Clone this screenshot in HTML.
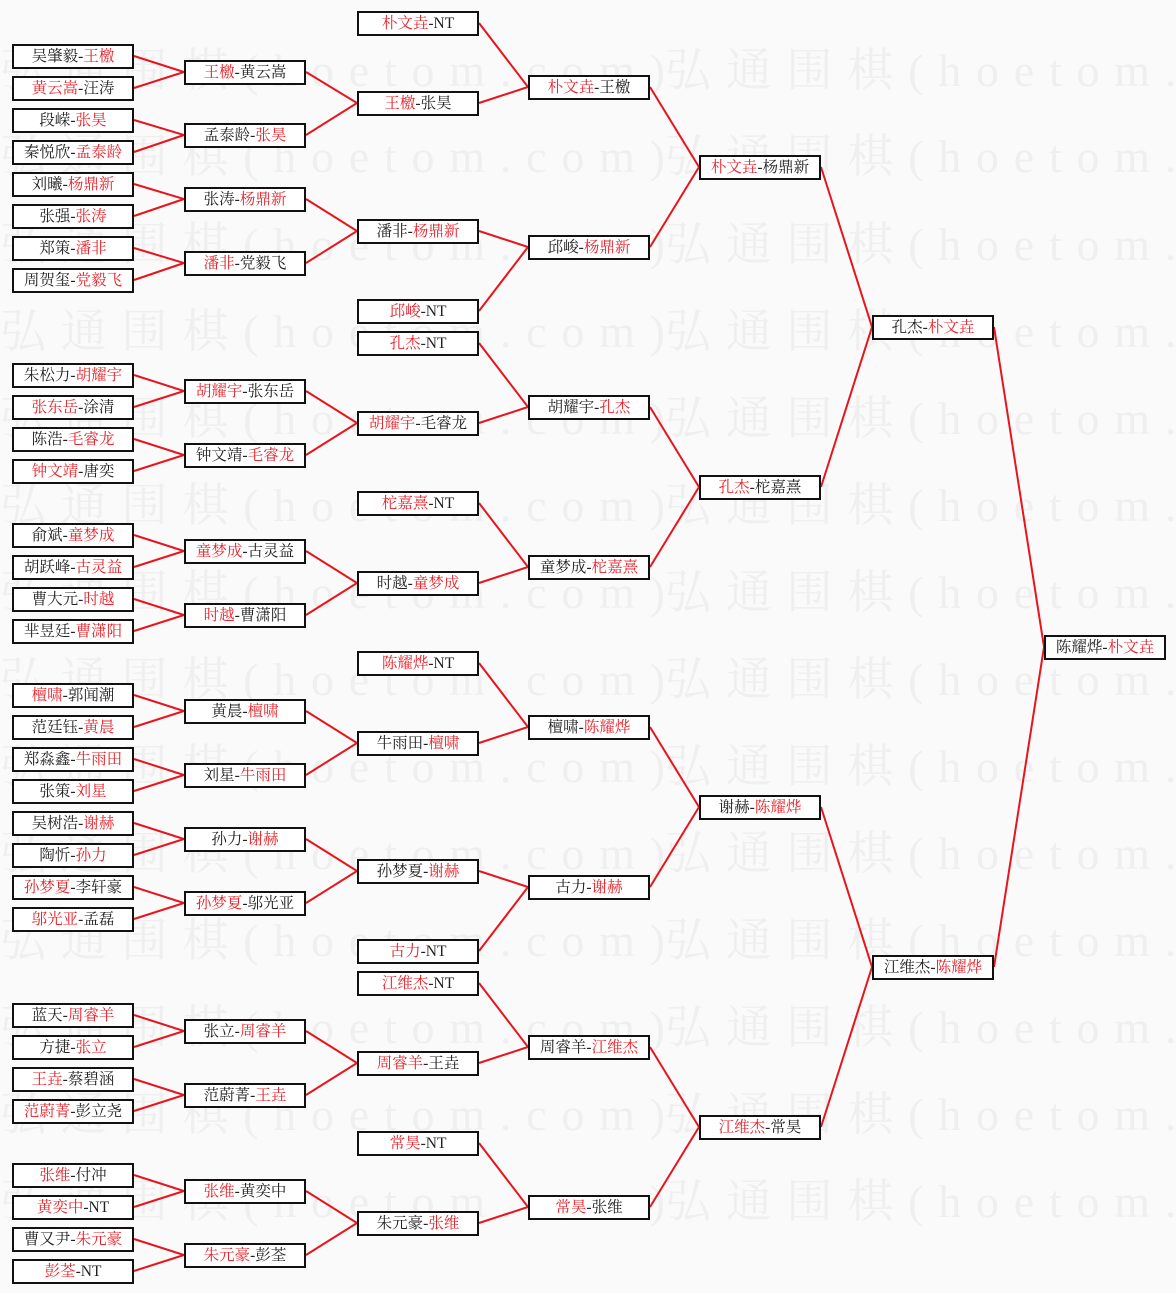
<!DOCTYPE html>
<html><head><meta charset="utf-8">
<style>
html,body{margin:0;padding:0;}
body{width:1176px;height:1293px;position:relative;background:#fafafa;overflow:hidden;font-family:"Liberation Serif","Noto Serif CJK SC",serif;}
svg{position:absolute;left:0;top:0;}
.b{position:absolute;width:122px;height:25px;box-sizing:border-box;border:2px solid #111;background:#fff;font-size:15.5px;line-height:21px;text-align:center;color:#222;white-space:nowrap;}
.b r{color:#e8242c;}
.c1{left:12px}.c2{left:184px}.c3{left:357px}.c4{left:528px}.c5{left:699px}.c6{left:872px}.c7{left:1044px}
</style></head><body>
<svg width="1176" height="1293">
<g fill="#efefef" font-family="Liberation Serif,Noto Serif CJK SC,serif" font-size="46">
<text x="0" y="86" textLength="665" lengthAdjust="spacing">弘通围棋(hoetom.com)</text><text x="665" y="86" textLength="665" lengthAdjust="spacing">弘通围棋(hoetom.com)</text>
<text x="0" y="172" textLength="665" lengthAdjust="spacing">弘通围棋(hoetom.com)</text><text x="665" y="172" textLength="665" lengthAdjust="spacing">弘通围棋(hoetom.com)</text>
<text x="0" y="260" textLength="665" lengthAdjust="spacing">弘通围棋(hoetom.com)</text><text x="665" y="260" textLength="665" lengthAdjust="spacing">弘通围棋(hoetom.com)</text>
<text x="0" y="347" textLength="665" lengthAdjust="spacing">弘通围棋(hoetom.com)</text><text x="665" y="347" textLength="665" lengthAdjust="spacing">弘通围棋(hoetom.com)</text>
<text x="0" y="434" textLength="665" lengthAdjust="spacing">弘通围棋(hoetom.com)</text><text x="665" y="434" textLength="665" lengthAdjust="spacing">弘通围棋(hoetom.com)</text>
<text x="0" y="521" textLength="665" lengthAdjust="spacing">弘通围棋(hoetom.com)</text><text x="665" y="521" textLength="665" lengthAdjust="spacing">弘通围棋(hoetom.com)</text>
<text x="0" y="608" textLength="665" lengthAdjust="spacing">弘通围棋(hoetom.com)</text><text x="665" y="608" textLength="665" lengthAdjust="spacing">弘通围棋(hoetom.com)</text>
<text x="0" y="695" textLength="665" lengthAdjust="spacing">弘通围棋(hoetom.com)</text><text x="665" y="695" textLength="665" lengthAdjust="spacing">弘通围棋(hoetom.com)</text>
<text x="0" y="782" textLength="665" lengthAdjust="spacing">弘通围棋(hoetom.com)</text><text x="665" y="782" textLength="665" lengthAdjust="spacing">弘通围棋(hoetom.com)</text>
<text x="0" y="869" textLength="665" lengthAdjust="spacing">弘通围棋(hoetom.com)</text><text x="665" y="869" textLength="665" lengthAdjust="spacing">弘通围棋(hoetom.com)</text>
<text x="0" y="956" textLength="665" lengthAdjust="spacing">弘通围棋(hoetom.com)</text><text x="665" y="956" textLength="665" lengthAdjust="spacing">弘通围棋(hoetom.com)</text>
<text x="0" y="1043" textLength="665" lengthAdjust="spacing">弘通围棋(hoetom.com)</text><text x="665" y="1043" textLength="665" lengthAdjust="spacing">弘通围棋(hoetom.com)</text>
<text x="0" y="1130" textLength="665" lengthAdjust="spacing">弘通围棋(hoetom.com)</text><text x="665" y="1130" textLength="665" lengthAdjust="spacing">弘通围棋(hoetom.com)</text>
<text x="0" y="1217" textLength="665" lengthAdjust="spacing">弘通围棋(hoetom.com)</text><text x="665" y="1217" textLength="665" lengthAdjust="spacing">弘通围棋(hoetom.com)</text>
</g>
<g fill="none" stroke="#e8141c" stroke-width="2">
<path d="M134 56L184 72L134 88M134 120L184 135L134 152M134 184L184 199L134 216M134 248L184 263L134 280M134 375L184 391L134 407M134 439L184 455L134 471M134 535L184 551L134 567M134 599L184 615L134 631M134 695L184 711L134 727M134 759L184 775L134 791M134 823L184 839L134 855M134 887L184 903L134 919M134 1015L184 1031L134 1047M134 1079L184 1095L134 1111M134 1175L184 1191L134 1207M134 1239L184 1255L134 1271"/>
<path d="M306 72L357 103L306 135M306 199L357 231L306 263M306 391L357 423L306 455M306 551L357 583L306 615M306 711L357 743L306 775M306 839L357 871L306 903M306 1031L357 1063L306 1095M306 1191L357 1223L306 1255"/>
<path d="M479 23L528 87L479 103M479 231L528 247L479 311M479 343L528 407L479 423M479 503L528 567L479 583M479 663L528 727L479 743M479 871L528 887L479 951M479 983L528 1047L479 1063M479 1143L528 1207L479 1223"/>
<path d="M650 87L699 167L650 247M650 407L699 487L650 567M650 727L699 807L650 887M650 1047L699 1127L650 1207"/>
<path d="M821 167L872 327L821 487M821 807L872 967L821 1127"/>
<path d="M994 327L1044 647L994 967"/>
</g>
</svg>

<div class="b c1" style="top:44px">吴肇毅-<r>王檄</r></div>
<div class="b c1" style="top:76px"><r>黄云嵩</r>-汪涛</div>
<div class="b c1" style="top:108px">段嵘-<r>张昊</r></div>
<div class="b c1" style="top:140px">秦悦欣-<r>孟泰龄</r></div>
<div class="b c1" style="top:172px">刘曦-<r>杨鼎新</r></div>
<div class="b c1" style="top:204px">张强-<r>张涛</r></div>
<div class="b c1" style="top:236px">郑策-<r>潘非</r></div>
<div class="b c1" style="top:268px">周贺玺-<r>党毅飞</r></div>
<div class="b c1" style="top:363px">朱松力-<r>胡耀宇</r></div>
<div class="b c1" style="top:395px"><r>张东岳</r>-涂清</div>
<div class="b c1" style="top:427px">陈浩-<r>毛睿龙</r></div>
<div class="b c1" style="top:459px"><r>钟文靖</r>-唐奕</div>
<div class="b c1" style="top:523px">俞斌-<r>童梦成</r></div>
<div class="b c1" style="top:555px">胡跃峰-<r>古灵益</r></div>
<div class="b c1" style="top:587px">曹大元-<r>时越</r></div>
<div class="b c1" style="top:619px">芈昱廷-<r>曹潇阳</r></div>
<div class="b c1" style="top:683px"><r>檀啸</r>-郭闻潮</div>
<div class="b c1" style="top:715px">范廷钰-<r>黄晨</r></div>
<div class="b c1" style="top:747px">郑淼鑫-<r>牛雨田</r></div>
<div class="b c1" style="top:779px">张策-<r>刘星</r></div>
<div class="b c1" style="top:811px">吴树浩-<r>谢赫</r></div>
<div class="b c1" style="top:843px">陶忻-<r>孙力</r></div>
<div class="b c1" style="top:875px"><r>孙梦夏</r>-李轩豪</div>
<div class="b c1" style="top:907px"><r>邬光亚</r>-孟磊</div>
<div class="b c1" style="top:1003px">蓝天-<r>周睿羊</r></div>
<div class="b c1" style="top:1035px">方捷-<r>张立</r></div>
<div class="b c1" style="top:1067px"><r>王垚</r>-蔡碧涵</div>
<div class="b c1" style="top:1099px"><r>范蔚菁</r>-彭立尧</div>
<div class="b c1" style="top:1163px"><r>张维</r>-付冲</div>
<div class="b c1" style="top:1195px"><r>黄奕中</r>-NT</div>
<div class="b c1" style="top:1227px">曹又尹-<r>朱元豪</r></div>
<div class="b c1" style="top:1259px"><r>彭荃</r>-NT</div>

<div class="b c2" style="top:60px"><r>王檄</r>-黄云嵩</div>
<div class="b c2" style="top:123px">孟泰龄-<r>张昊</r></div>
<div class="b c2" style="top:187px">张涛-<r>杨鼎新</r></div>
<div class="b c2" style="top:251px"><r>潘非</r>-党毅飞</div>
<div class="b c2" style="top:379px"><r>胡耀宇</r>-张东岳</div>
<div class="b c2" style="top:443px">钟文靖-<r>毛睿龙</r></div>
<div class="b c2" style="top:539px"><r>童梦成</r>-古灵益</div>
<div class="b c2" style="top:603px"><r>时越</r>-曹潇阳</div>
<div class="b c2" style="top:699px">黄晨-<r>檀啸</r></div>
<div class="b c2" style="top:763px">刘星-<r>牛雨田</r></div>
<div class="b c2" style="top:827px">孙力-<r>谢赫</r></div>
<div class="b c2" style="top:891px"><r>孙梦夏</r>-邬光亚</div>
<div class="b c2" style="top:1019px">张立-<r>周睿羊</r></div>
<div class="b c2" style="top:1083px">范蔚菁-<r>王垚</r></div>
<div class="b c2" style="top:1179px"><r>张维</r>-黄奕中</div>
<div class="b c2" style="top:1243px"><r>朱元豪</r>-彭荃</div>

<div class="b c3" style="top:11px"><r>朴文垚</r>-NT</div>
<div class="b c3" style="top:91px"><r>王檄</r>-张昊</div>
<div class="b c3" style="top:219px">潘非-<r>杨鼎新</r></div>
<div class="b c3" style="top:299px"><r>邱峻</r>-NT</div>
<div class="b c3" style="top:331px"><r>孔杰</r>-NT</div>
<div class="b c3" style="top:411px"><r>胡耀宇</r>-毛睿龙</div>
<div class="b c3" style="top:491px"><r>柁嘉熹</r>-NT</div>
<div class="b c3" style="top:571px">时越-<r>童梦成</r></div>
<div class="b c3" style="top:651px"><r>陈耀烨</r>-NT</div>
<div class="b c3" style="top:731px">牛雨田-<r>檀啸</r></div>
<div class="b c3" style="top:859px">孙梦夏-<r>谢赫</r></div>
<div class="b c3" style="top:939px"><r>古力</r>-NT</div>
<div class="b c3" style="top:971px"><r>江维杰</r>-NT</div>
<div class="b c3" style="top:1051px"><r>周睿羊</r>-王垚</div>
<div class="b c3" style="top:1131px"><r>常昊</r>-NT</div>
<div class="b c3" style="top:1211px">朱元豪-<r>张维</r></div>

<div class="b c4" style="top:75px"><r>朴文垚</r>-王檄</div>
<div class="b c4" style="top:235px">邱峻-<r>杨鼎新</r></div>
<div class="b c4" style="top:395px">胡耀宇-<r>孔杰</r></div>
<div class="b c4" style="top:555px">童梦成-<r>柁嘉熹</r></div>
<div class="b c4" style="top:715px">檀啸-<r>陈耀烨</r></div>
<div class="b c4" style="top:875px">古力-<r>谢赫</r></div>
<div class="b c4" style="top:1035px">周睿羊-<r>江维杰</r></div>
<div class="b c4" style="top:1195px"><r>常昊</r>-张维</div>

<div class="b c5" style="top:155px"><r>朴文垚</r>-杨鼎新</div>
<div class="b c5" style="top:475px"><r>孔杰</r>-柁嘉熹</div>
<div class="b c5" style="top:795px">谢赫-<r>陈耀烨</r></div>
<div class="b c5" style="top:1115px"><r>江维杰</r>-常昊</div>

<div class="b c6" style="top:315px">孔杰-<r>朴文垚</r></div>
<div class="b c6" style="top:955px">江维杰-<r>陈耀烨</r></div>

<div class="b c7" style="top:635px">陈耀烨-<r>朴文垚</r></div>
</body></html>
